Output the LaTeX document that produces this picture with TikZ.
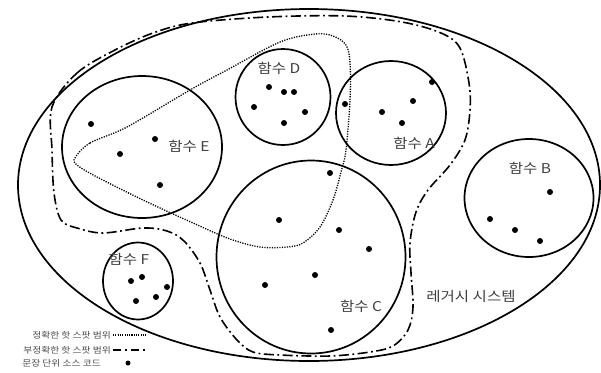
\documentclass[tikz,border=0pt]{standalone}
\usepackage{fontspec}
\setmainfont{Noto Sans CJK KR}
\usetikzlibrary{shapes.geometric}
\begin{document}
\begin{tikzpicture}[x=1pt,y=-1pt,
  func/.style={draw=black,line width=1.7pt,ellipse,inner sep=0pt},
  pt/.style={circle,fill=black,inner sep=0pt,minimum size=6pt},
  lbl/.style={text=black!75,font=\fontsize{13.5}{13.5}\selectfont,inner sep=0pt},
  exact/.style={line width=1.3pt,dash pattern=on 1.2pt off 1.3pt},
  inexact/.style={line width=1.6pt,dash pattern=on 10pt off 3.5pt on 1.8pt off 3.5pt},
  leg/.style={text=black!70,font=\fontsize{8.5}{8.5}\selectfont,inner sep=0pt,anchor=east}]
\useasboundingbox (0,0) rectangle (601,372);
% legacy system
\node[func,minimum width=582pt,minimum height=352pt] (sys) at (309,185) {};
% functions
\node[func,minimum width=160pt,minimum height=142pt] (fE) at (142,147) {};
\node[func,minimum width=95pt,minimum height=96pt] (fD) at (283,97) {};
\node[func,minimum width=110pt,minimum height=104pt] (fA) at (391,113) {};
\node[func,minimum width=129pt,minimum height=118pt] (fB) at (529,198) {};
\node[func,minimum width=189pt,minimum height=193pt] (fC) at (311,257) {};
\node[func,minimum width=70pt,minimum height=77pt] (fF) at (138,281) {};
% labels
\node[lbl] (lE) at (189,146) {\scalebox{1.15}[1]{함수 E}};
\node[lbl] (lD) at (279,68) {\scalebox{1.15}[1]{함수 D}};
\node[lbl] (lA) at (414,143) {\scalebox{1.15}[1]{함수 A}};
\node[lbl] (lB) at (530,168) {\scalebox{1.15}[1]{함수 B}};
\node[lbl] (lC) at (361,306) {\scalebox{1.15}[1]{함수 C}};
\node[lbl] (lF) at (129,259) {\scalebox{1.15}[1]{함수 F}};
\node[lbl] (lS) at (471,296) {\scalebox{1.15}[1]{레거시 시스템}};
% statements
\foreach \n/\p in {e1/{(91,124)},e2/{(155,139)},e3/{(120,154)},e4/{(160,185)},
  d1/{(269,87)},d2/{(284,92)},d3/{(294,92)},d4/{(254,107)},d5/{(305,112)},d6/{(284,123)},
  a1/{(345,104)},a2/{(382,112)},a3/{(413,101)},a4/{(402,123)},a5/{(432,82)},
  b1/{(550,192)},b2/{(490,219)},b3/{(515,230)},b4/{(540,241)},
  c1/{(330,173)},c2/{(279,220)},c3/{(339,230)},c4/{(369,249)},c5/{(315,275)},c6/{(265,285)},c7/{(331,330)},
  f1/{(142,277)},f2/{(131,281)},f3/{(167,287)},f4/{(156,297)},f5/{(136,301)}}
  \node[pt] (\n) at \p {};
% exact hot spot
\draw[exact] plot[smooth cycle,tension=0.55] coordinates {
  (75,158) (90,143) (127,127) (190,90) (227,70) (280,42) (315,34) (333,36) (346,45)
  (350,63) (350,100) (346,150) (341,172) (333,200) (320,227) (303,243) (287,247)
  (260,247) (230,239) (193,223) (143,200) (97,177) (77,165)};
% inexact hot spot
\draw[inexact] plot[smooth cycle,tension=0.55] coordinates {
  (52,107) (77,73) (115,50) (153,33) (192,23) (268,17) (345,16) (402,22) (441,33)
  (460,48) (469,83) (470,110) (465,140) (450,165) (428,190) (416,212) (410,243)
  (411,273) (413,307) (408,330) (393,346) (370,352) (330,356) (280,355) (253,352)
  (237,340) (220,317) (210,290) (200,263) (184,241) (167,231) (143,228) (103,233)
  (77,228) (61,220) (54,193) (52,150)};
% legend
\node[leg] (g1) at (111,335) {\scalebox{1.15}[1]{정확한 핫 스팟 범위}};
\node[leg] (g2) at (111,350) {\scalebox{1.15}[1]{부정확한 핫 스팟 범위}};
\node[leg] (g3) at (101,363) {\scalebox{1.15}[1]{문장 단위 소스 코드}};
\coordinate (g1a) at (113,335); \coordinate (g1b) at (147,335);
\coordinate (g2a) at (113,350); \coordinate (g2b) at (147,350);
\draw[line width=1.1pt,dash pattern=on 1.1pt off 1.2pt] (g1a) -- (g1b);
\draw[line width=1.5pt,dash pattern=on 8pt off 4pt on 2pt off 4pt] (g2a) -- (g2b);
\node[pt,minimum size=5pt] (g3d) at (128,363) {};
\end{tikzpicture}
\end{document}
